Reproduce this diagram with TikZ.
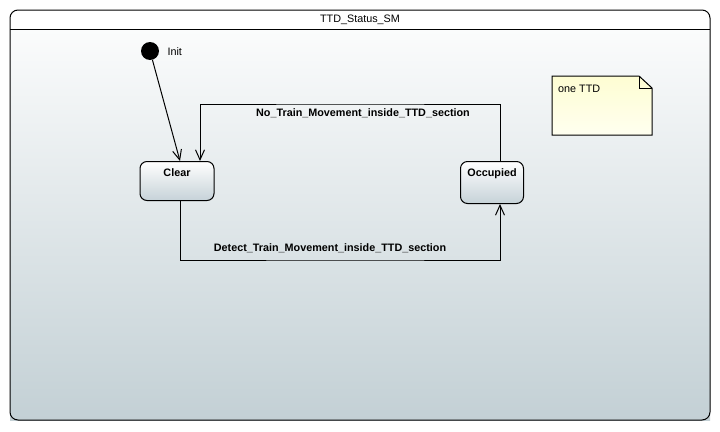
\documentclass[tikz,border=0pt]{standalone}
\usepackage{fontspec}
\setmainfont{Liberation Sans}
\usepackage{tikz}
\usetikzlibrary{arrows.meta}
\usetikzlibrary{positioning}
\definecolor{bgtop}{HTML}{FBFCFC}
\definecolor{bgbot}{HTML}{C3D0D5}
\definecolor{sttop}{HTML}{FFFFFF}
\definecolor{stbot}{HTML}{C6D2D8}
\definecolor{notetop}{HTML}{FEFDD2}
\definecolor{notebot}{HTML}{FFFFF0}
\tikzset{state box/.style={draw,line width=1pt,rectangle,rounded corners=7,top color=sttop,bottom color=stbot,font=\bfseries\fontsize{10.8}{12}\selectfont,text height=10pt,text depth=19pt,inner ysep=5pt,anchor=north},
  trans label/.style={inner sep=1,font=\bfseries\fontsize{10.8}{12}\selectfont},
  trans line/.style={-{Straight Barb[length=10pt,width=9pt]},line width=1pt},
  init dot/.style={circle,fill=black,minimum size=18pt,inner sep=0}}

\begin{document}
\begin{tikzpicture}[x=1pt,y=-1pt]
            \useasboundingbox (0,0) rectangle (720,431);

            %枠
            \shade[top color=bgtop,bottom color=bgbot] (10,29) rectangle (710,420);
            \draw[line width=1pt,rounded corners=8] (10,10) rectangle (710,420);
            \draw[line width=1pt] (10,29) -- (710,29);
            \node[font=\fontsize{10.8}{12}\selectfont] (title) at (360,20) {TTD\_Status\_SM};

            %状態
            \node[init dot] (init) at (150,51) {};
            \node[anchor=west,font=\fontsize{10.8}{12}\selectfont] (initlbl) at (164,52) {Init};
            \node[state box,minimum width=74pt] (clear) at (177,161) {Clear};
            \node[state box,minimum width=63pt,text depth=22pt] (occ) at (492,161) {Occupied};

            %ノート
            \draw[top color=notetop,bottom color=notebot,line width=1pt] (552,76) -- (639,76) -- (652,88) -- (652,135) -- (552,135) -- cycle;
            \draw (639,76) -- (639,88) -- (652,88);
            \node[anchor=north west,inner sep=0,font=\fontsize{10.8}{12}\selectfont] (note) at (558,85) {one TTD};

            %遷移
            \coordinate (topline) at (350,104);
            \coordinate (botline) at (350,260);
            \draw[trans line] (init) -- ([xshift=3]clear.north);
            \draw[trans line] ([xshift=8]occ.north) |- (topline) -| ([xshift=23]clear.north);
            \draw[trans line] ([xshift=3]clear.south) |- (botline) -| ([xshift=8]occ.south);

            %ラベル
            \node[trans label] (nomove) at (363,113) {No\_Train\_Movement\_inside\_TTD\_section};
            \node[trans label] (detect) at (330,248) {Detect\_Train\_Movement\_inside\_TTD\_section};

          \end{tikzpicture}
\end{document}
